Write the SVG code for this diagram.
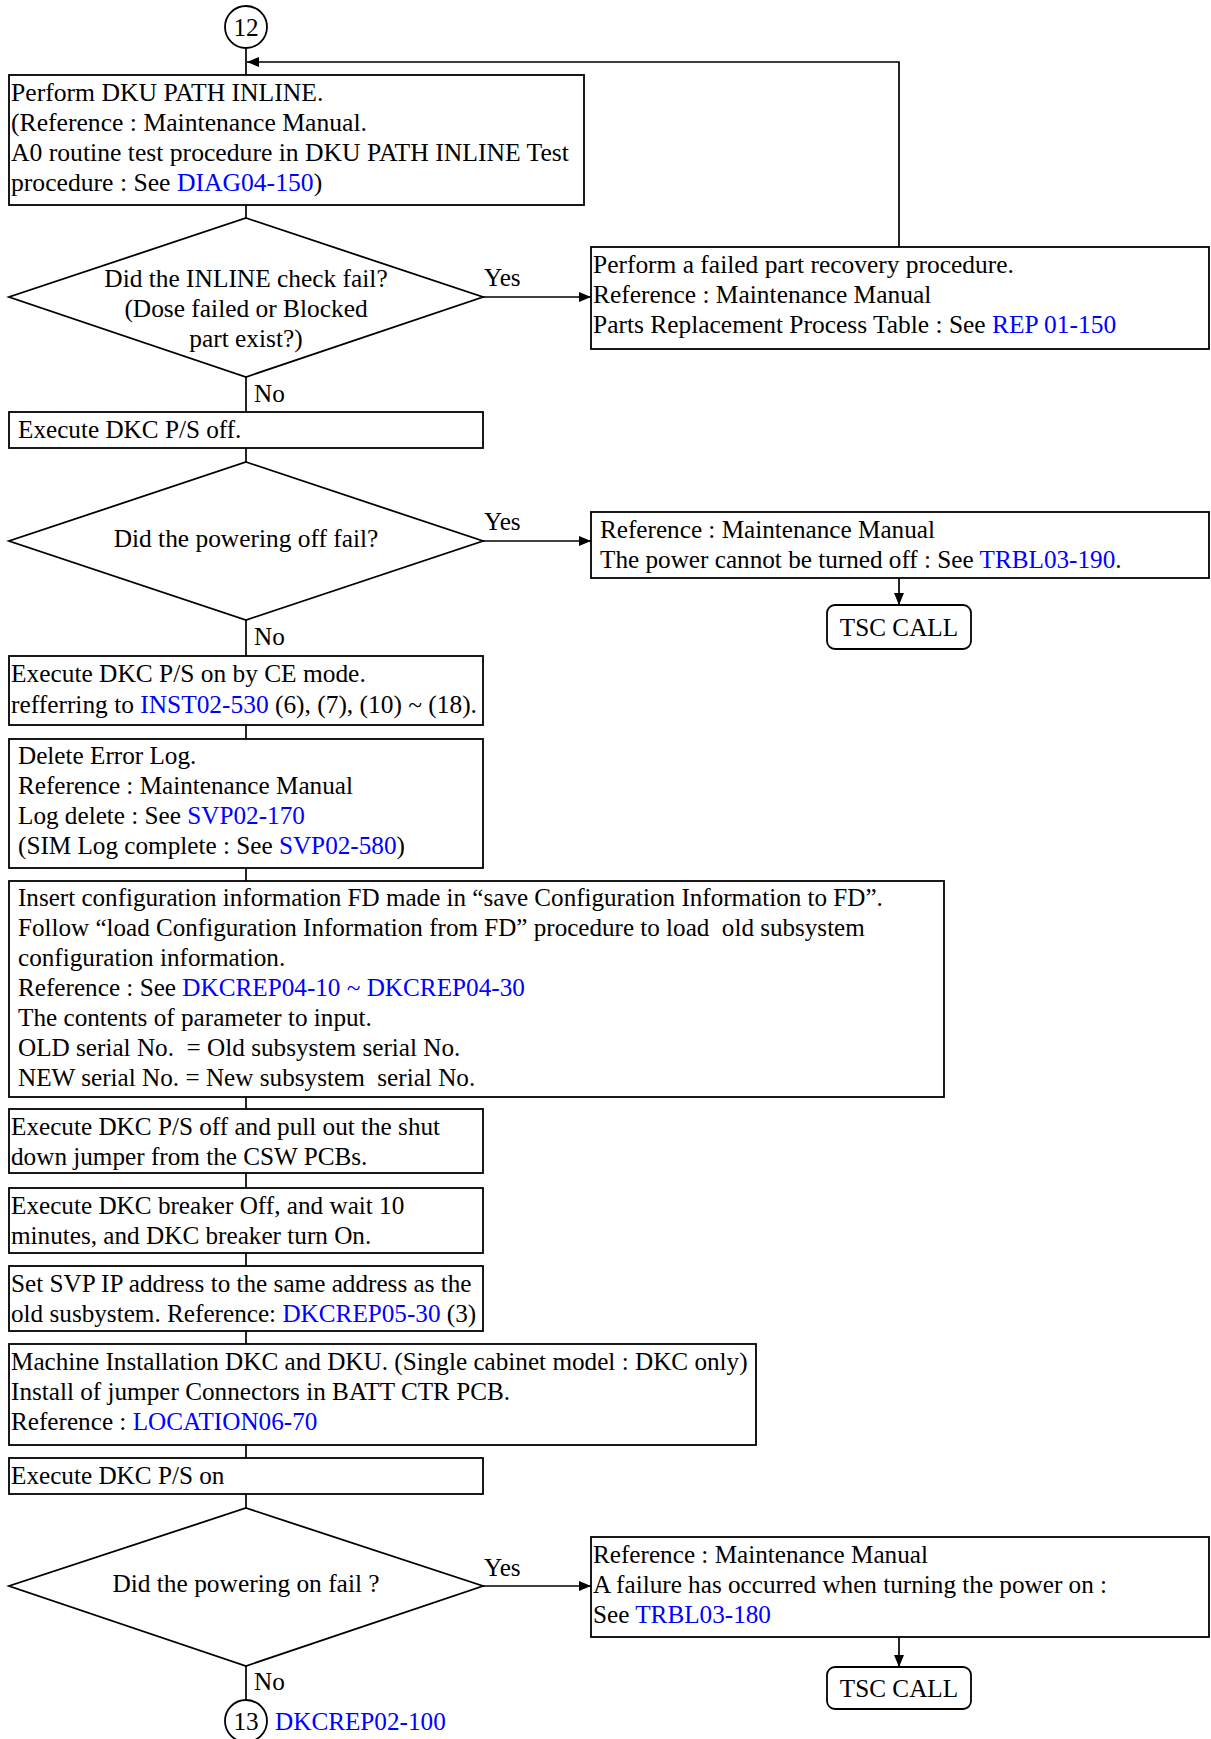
<svg xmlns="http://www.w3.org/2000/svg" width="1211" height="1739" viewBox="0 0 1211 1739">
<style>
text{font-family:"Liberation Serif","Times New Roman",serif;font-size:25.2px;fill:#000}
.l{fill:#0000FF}
.b{fill:#fff;stroke:#000;stroke-width:1.8}
.c{fill:none;stroke:#000;stroke-width:1.7}
.m{text-anchor:middle}
#n1 text{font-size:25.65px}
#r1 text{font-size:25.45px}
#n3 text,#d1 text,#d2 text,#d3 text{font-size:25.4px}
</style>
<defs>
<marker id="ah" viewBox="0 0 12 10" refX="12" refY="5" markerWidth="12" markerHeight="10" markerUnits="userSpaceOnUse" orient="auto">
<path d="M0,0 L12,5 L0,10 Z" fill="#000"/>
</marker>
</defs>
<rect width="1211" height="1739" fill="#fff"/>
<g id="connectors">
<line class="c" x1="246" y1="48" x2="246" y2="75"/>
<polyline class="c" points="899,247 899,62 247,62" marker-end="url(#ah)"/>
<line class="c" x1="246" y1="205" x2="246" y2="218"/>
<line class="c" x1="483" y1="297" x2="591" y2="297" marker-end="url(#ah)"/>
<line class="c" x1="246" y1="377" x2="246" y2="412"/>
<line class="c" x1="246" y1="448" x2="246" y2="462"/>
<line class="c" x1="483" y1="541" x2="591" y2="541" marker-end="url(#ah)"/>
<line class="c" x1="899" y1="578" x2="899" y2="605" marker-end="url(#ah)"/>
<line class="c" x1="246" y1="620" x2="246" y2="656"/>
<line class="c" x1="246" y1="725" x2="246" y2="739"/>
<line class="c" x1="246" y1="868" x2="246" y2="881"/>
<line class="c" x1="246" y1="1097" x2="246" y2="1109"/>
<line class="c" x1="246" y1="1173" x2="246" y2="1188"/>
<line class="c" x1="246" y1="1253" x2="246" y2="1266"/>
<line class="c" x1="246" y1="1331" x2="246" y2="1344"/>
<line class="c" x1="246" y1="1445" x2="246" y2="1458"/>
<line class="c" x1="246" y1="1494" x2="246" y2="1508"/>
<line class="c" x1="483" y1="1586" x2="591" y2="1586" marker-end="url(#ah)"/>
<line class="c" x1="899" y1="1637" x2="899" y2="1667" marker-end="url(#ah)"/>
<line class="c" x1="246" y1="1666" x2="246" y2="1700"/>
<text x="484" y="286">Yes</text>
<text x="254" y="402">No</text>
<text x="484" y="530">Yes</text>
<text x="254" y="645">No</text>
<text x="484" y="1576">Yes</text>
<text x="254" y="1690">No</text>
</g>
<g id="c12">
<circle class="b" cx="246" cy="27" r="21"/>
<text class="m" x="246" y="36">12</text>
</g>
<g id="n1">
<rect class="b" x="9" y="75" width="575" height="130"/>
<text x="11" y="101">Perform DKU PATH INLINE.</text>
<text x="11" y="131">(Reference : Maintenance Manual.</text>
<text x="11" y="161">A0 routine test procedure in DKU PATH INLINE Test</text>
<text x="11" y="191">procedure : See <tspan class="l">DIAG04-150</tspan>)</text>
</g>
<g id="d1">
<polygon class="b" points="246,218 483,297 246,377 9,297"/>
<text class="m" x="246" y="287">Did the INLINE check fail?</text>
<text class="m" x="246" y="317">(Dose failed or Blocked</text>
<text class="m" x="246" y="347">part exist?)</text>
</g>
<g id="r1">
<rect class="b" x="591" y="247" width="618" height="102"/>
<text x="593" y="273">Perform a failed part recovery procedure.</text>
<text x="593" y="303">Reference : Maintenance Manual</text>
<text x="593" y="333">Parts Replacement Process Table : See <tspan class="l">REP 01-150</tspan></text>
</g>
<g id="n2">
<rect class="b" x="9" y="412" width="474" height="36"/>
<text x="18" y="438">Execute DKC P/S off.</text>
</g>
<g id="d2">
<polygon class="b" points="246,462 483,541 246,620 9,541"/>
<text class="m" x="246" y="547">Did the powering off fail?</text>
</g>
<g id="r2">
<rect class="b" x="591" y="512" width="618" height="66"/>
<text x="600" y="538">Reference : Maintenance Manual</text>
<text x="600" y="568">The power cannot be turned off : See <tspan class="l">TRBL03-190</tspan>.</text>
</g>
<g id="t1">
<rect class="b" x="827" y="605" width="144" height="44" rx="8"/>
<text class="m" x="899" y="636">TSC CALL</text>
</g>
<g id="n3">
<rect class="b" x="9" y="656" width="474" height="69"/>
<text x="11" y="682">Execute DKC P/S on by CE mode.</text>
<text x="11" y="713">refferring to <tspan class="l">INST02-530</tspan> (6), (7), (10) ~ (18).</text>
</g>
<g id="n4">
<rect class="b" x="9" y="739" width="474" height="129"/>
<text x="18" y="764">Delete Error Log.</text>
<text x="18" y="794">Reference : Maintenance Manual</text>
<text x="18" y="824">Log delete : See <tspan class="l">SVP02-170</tspan></text>
<text x="18" y="854">(SIM Log complete : See <tspan class="l">SVP02-580</tspan>)</text>
</g>
<g id="n5">
<rect class="b" x="9" y="881" width="935" height="216"/>
<text x="18" y="906" style="font-size:25.1px">Insert configuration information FD made in “save Configuration Information to FD”.</text>
<text x="18" y="936" xml:space="preserve" style="font-size:25.1px">Follow “load Configuration Information from FD” procedure to load  old subsystem</text>
<text x="18" y="966">configuration information.</text>
<text x="18" y="996">Reference : See <tspan class="l">DKCREP04-10 ~ DKCREP04-30</tspan></text>
<text x="18" y="1026">The contents of parameter to input.</text>
<text x="18" y="1056" xml:space="preserve">OLD serial No.  = Old subsystem serial No.</text>
<text x="18" y="1086" xml:space="preserve">NEW serial No. = New subsystem  serial No.</text>
</g>
<g id="n6">
<rect class="b" x="9" y="1109" width="474" height="64"/>
<text x="11" y="1135">Execute DKC P/S off and pull out the shut</text>
<text x="11" y="1165">down jumper from the CSW PCBs.</text>
</g>
<g id="n7">
<rect class="b" x="9" y="1188" width="474" height="65"/>
<text x="11" y="1214">Execute DKC breaker Off, and wait 10</text>
<text x="11" y="1244">minutes, and DKC breaker turn On.</text>
</g>
<g id="n8">
<rect class="b" x="9" y="1266" width="474" height="65"/>
<text x="11" y="1292">Set SVP IP address to the same address as the</text>
<text x="11" y="1322">old susbystem. Reference: <tspan class="l">DKCREP05-30</tspan> (3)</text>
</g>
<g id="n9">
<rect class="b" x="9" y="1344" width="747" height="101"/>
<text x="11" y="1370">Machine Installation DKC and DKU. (Single cabinet model : DKC only)</text>
<text x="11" y="1400">Install of jumper Connectors in BATT CTR PCB.</text>
<text x="11" y="1430">Reference : <tspan class="l">LOCATION06-70</tspan></text>
</g>
<g id="n10">
<rect class="b" x="9" y="1458" width="474" height="36"/>
<text x="11" y="1484">Execute DKC P/S on</text>
</g>
<g id="d3">
<polygon class="b" points="246,1508 483,1586 246,1666 9,1586"/>
<text class="m" x="246" y="1592">Did the powering on fail ?</text>
</g>
<g id="r3">
<rect class="b" x="591" y="1537" width="618" height="100"/>
<text x="593" y="1563">Reference : Maintenance Manual</text>
<text x="593" y="1593">A failure has occurred when turning the power on :</text>
<text x="593" y="1623">See <tspan class="l">TRBL03-180</tspan></text>
</g>
<g id="t2">
<rect class="b" x="827" y="1667" width="144" height="42" rx="8"/>
<text class="m" x="899" y="1697">TSC CALL</text>
</g>
<g id="c13">
<circle class="b" cx="246" cy="1721" r="21"/>
<text class="m" x="246" y="1730">13</text>
<text class="l" x="275" y="1730">DKCREP02-100</text>
</g>
</svg>
